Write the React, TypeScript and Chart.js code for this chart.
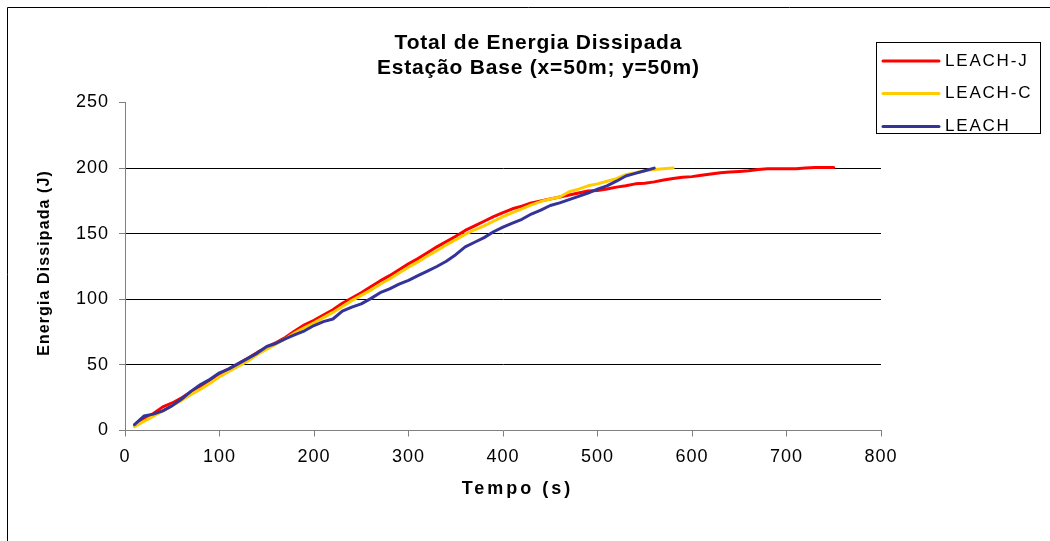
import React, { useEffect, useRef } from 'react';
import { Chart, registerables } from 'chart.js';

Chart.register(...registerables);

const TITLE_LINES = ['Total de Energia Dissipada', 'Estação Base (x=50m; y=50m)'];
const X_TITLE = 'Tempo (s)';
const Y_TITLE = 'Energia Dissipada (J)';
const SERIES_NAMES = ['LEACH-J', 'LEACH-C', 'LEACH'];
const SERIES_COLORS = ['#FF0000', '#FFCC00', '#333399'];
const X_MIN = 0;
const X_MAX = 800;
const X_STEP = 100;
const Y_MIN = 0;
const Y_MAX = 250;
const Y_STEP = 50;

const leachJTime = [10, 20, 30, 40, 50, 60, 70, 80, 90, 100, 110, 120, 130, 140, 150, 160, 170, 180, 190, 200, 210, 220, 230, 240, 250, 260, 270, 280, 290, 300, 310, 320, 330, 340, 350, 360, 370, 380, 390, 400, 410, 420, 430, 440, 450, 460, 470, 480, 490, 500, 510, 520, 530, 540, 550, 560, 570, 580, 590, 600, 610, 620, 630, 640, 650, 660, 670, 680, 690, 700, 710, 720, 730, 740, 750];
const leachJEnergy = [4, 9, 13, 18, 21, 25, 29.5, 34, 38.5, 43, 47, 51, 55, 59.5, 63.5, 67, 71, 76, 80.5, 84, 88, 92, 97, 101, 105, 109.5, 114, 118, 122.5, 127, 131, 135.5, 140, 144, 148, 152.5, 156, 159.5, 163, 166, 169, 171, 173.5, 175, 176.5, 178, 179.5, 181, 182.5, 183, 184, 185.5, 186.5, 188, 188.5, 189.5, 191, 192, 193, 193.5, 194.5, 195.5, 196.5, 197, 197.5, 198, 199, 199.5, 199.5, 199.5, 199.5, 200, 200.5, 200.5, 200.5];

const leachCTime = [10, 20, 30, 40, 50, 60, 70, 80, 90, 100, 110, 120, 130, 140, 150, 160, 170, 180, 190, 200, 210, 220, 230, 240, 250, 260, 270, 280, 290, 300, 310, 320, 330, 340, 350, 360, 370, 380, 390, 400, 410, 420, 430, 440, 450, 460, 470, 480, 490, 500, 510, 520, 530, 540, 550, 560, 570, 580];
const leachCEnergy = [3, 7, 11, 15, 19, 23, 27.5, 31.5, 36, 41, 45, 49, 53, 58, 62, 66, 70, 74.5, 78.5, 82, 86, 90, 94.5, 99, 103, 107, 111.5, 115.5, 120, 124.5, 128.5, 133, 137, 141.5, 145.5, 149.5, 153, 156, 159.5, 163, 166, 169, 172, 174.5, 176.5, 178, 182, 184, 186.5, 188, 190, 192, 195, 196.5, 198, 199, 199.5, 200];

const leachTime = [10, 20, 30, 40, 50, 60, 70, 80, 90, 100, 110, 120, 130, 140, 150, 160, 170, 180, 190, 200, 210, 220, 230, 240, 250, 260, 270, 280, 290, 300, 310, 320, 330, 340, 350, 360, 370, 380, 390, 400, 410, 420, 430, 440, 450, 460, 470, 480, 490, 500, 510, 520, 530, 540, 550, 560];
const leachEnergy = [4.5, 11, 12.5, 15, 19, 24, 30, 35, 39, 44, 47, 51, 55, 59, 64, 66.5, 70, 73, 76, 80, 83, 85, 91, 94, 96.5, 100.5, 105, 108, 111.5, 114.5, 118, 121.5, 125, 129, 134, 140, 143.5, 147, 151.5, 155, 158, 161, 165, 168, 171.5, 173.5, 176, 178.5, 181, 184, 186.5, 190, 194, 196, 198, 200];

const FONT = '"Liberation Sans", Arial, Helvetica, sans-serif';

function toPoints(xs: number[], ys: number[]) {
  return xs.map((x, i) => ({ x, y: ys[i] }));
}

function spacedText(ctx: CanvasRenderingContext2D, text: string, x: number, y: number, ls: number, align: CanvasTextAlign) {
  (ctx as any).letterSpacing = ls + 'px';
  ctx.textAlign = align;
  const dx = align === 'center' ? ls / 2 : 0;
  ctx.fillText(text, x + dx, y);
}

const decorPlugin = {
  id: 'decor',
  beforeDraw(chart: any) {
    const ctx = chart.ctx as CanvasRenderingContext2D;
    ctx.save();
    ctx.fillStyle = '#ffffff';
    ctx.fillRect(0, 0, chart.width, chart.height);
    ctx.restore();
    (ctx as any).letterSpacing = '1px';
  },
  afterDraw(chart: any) {
    const ctx = chart.ctx as CanvasRenderingContext2D;
    (ctx as any).letterSpacing = '0px';
    ctx.save();
    // outer frame
    ctx.strokeStyle = '#000000';
    ctx.lineWidth = 1;
    ctx.beginPath();
    ctx.moveTo(7.5, chart.height);
    ctx.lineTo(7.5, 7.5);
    ctx.lineTo(chart.width, 7.5);
    ctx.stroke();

    ctx.fillStyle = '#000000';
    // title
    ctx.font = 'bold 21px ' + FONT;
    ctx.textBaseline = 'alphabetic';
    spacedText(ctx, TITLE_LINES[0], 538, 48.5, 0.8, 'center');
    spacedText(ctx, TITLE_LINES[1], 538, 73.5, 0.8, 'center');

    // x title
    ctx.font = 'bold 18px ' + FONT;
    spacedText(ctx, X_TITLE, 516, 493.5, 3, 'center');

    // y title
    ctx.save();
    ctx.translate(45, 263.5);
    ctx.rotate(-Math.PI / 2);
    ctx.font = 'bold 16px ' + FONT;
    ctx.textBaseline = 'middle';
    spacedText(ctx, Y_TITLE, 0, 0, 1.1, 'center');
    ctx.restore();

    // legend
    const bx = 876.5, by = 42.5, bw = 164, bh = 91;
    ctx.strokeStyle = '#000000';
    ctx.lineWidth = 1;
    ctx.strokeRect(bx, by, bw, bh);
    const rows = [61, 93.5, 126.5];
    ctx.font = '17px ' + FONT;
    ctx.textBaseline = 'middle';
    chart.data.datasets.forEach((ds: any, i: number) => {
      const y = rows[i];
      ctx.strokeStyle = ds.borderColor;
      ctx.lineWidth = 3;
      ctx.lineCap = 'round';
      ctx.beginPath();
      ctx.moveTo(883, y);
      ctx.lineTo(939, y);
      ctx.stroke();
      ctx.fillStyle = '#000000';
      spacedText(ctx, ds.label, 945, y, 1.8, 'left');
    });
    ctx.restore();
    (ctx as any).letterSpacing = '0px';
  },
};

export default function App() {
  const canvasRef = useRef<HTMLCanvasElement | null>(null);

  useEffect(() => {
    const canvas = canvasRef.current;
    if (!canvas) return;
    Chart.defaults.color = '#000000';
    const chart = new Chart(canvas, {
      type: 'line',
      data: {
        datasets: [
          {
            label: SERIES_NAMES[0],
            data: toPoints(leachJTime, leachJEnergy),
            borderColor: SERIES_COLORS[0],
            backgroundColor: SERIES_COLORS[0],
            borderWidth: 3,
            pointRadius: 0,
            tension: 0,
            borderJoinStyle: 'round',
            borderCapStyle: 'round',
            order: 2,
          },
          {
            label: SERIES_NAMES[1],
            data: toPoints(leachCTime, leachCEnergy),
            borderColor: SERIES_COLORS[1],
            backgroundColor: SERIES_COLORS[1],
            borderWidth: 3,
            pointRadius: 0,
            tension: 0,
            borderJoinStyle: 'round',
            borderCapStyle: 'round',
            order: 1,
          },
          {
            label: SERIES_NAMES[2],
            data: toPoints(leachTime, leachEnergy),
            borderColor: SERIES_COLORS[2],
            backgroundColor: SERIES_COLORS[2],
            borderWidth: 3,
            pointRadius: 0,
            tension: 0,
            borderJoinStyle: 'round',
            borderCapStyle: 'round',
            order: 0,
          },
        ],
      },
      options: {
        responsive: false,
        maintainAspectRatio: false,
        devicePixelRatio: 1,
        animation: false,
        layout: { padding: { left: 0, right: 169, top: 102.5, bottom: 0 } },
        plugins: {
          legend: { display: false },
          title: { display: false },
          tooltip: { enabled: false },
        },
        scales: {
          x: {
            type: 'linear',
            min: X_MIN,
            max: X_MAX,
            afterFit: (scale: any) => { scale.height = 110.5; },
            ticks: {
              stepSize: X_STEP,
              padding: 10,
              maxRotation: 0,
              font: { family: FONT, size: 18 },
              color: '#000000',
            },
            grid: {
              drawOnChartArea: false,
              drawTicks: true,
              tickLength: 6,
              color: '#808080',
              tickColor: '#808080',
            },
            border: { display: true, color: '#808080', width: 1 },
          },
          y: {
            type: 'linear',
            min: Y_MIN,
            max: Y_MAX,
            afterFit: (scale: any) => { scale.width = 125; },
            ticks: {
              stepSize: Y_STEP,
              padding: 10,
              font: { family: FONT, size: 18 },
              color: '#000000',
            },
            grid: {
              drawOnChartArea: true,
              drawTicks: true,
              tickLength: 6,
              color: (c: any) => (c.tick && c.tick.value > Y_MIN && c.tick.value < Y_MAX ? '#000000' : 'rgba(0,0,0,0)'),
              tickColor: '#808080',
            },
            border: { display: true, color: '#808080', width: 1 },
          },
        },
      },
      plugins: [decorPlugin],
    } as any);
    return () => chart.destroy();
  }, []);

  return (
    <div style={{ position: 'fixed', left: 0, top: 0, width: 1050, height: 541, background: '#ffffff' }}>
      <canvas ref={canvasRef} width={1050} height={541} style={{ display: 'block', width: 1050, height: 541 }} />
    </div>
  );
}
